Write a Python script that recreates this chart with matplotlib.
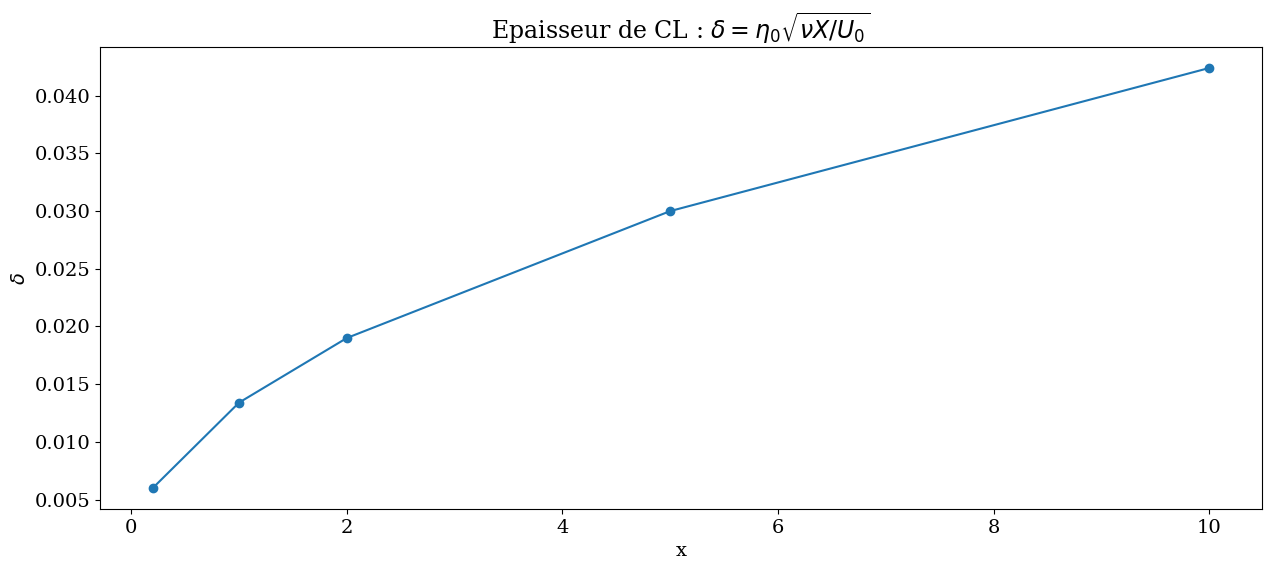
import numpy as np
import matplotlib.pyplot as plt

plt.rcParams['font.family'] = 'serif'
plt.rcParams['font.size'] = 14

x = [0.2, 1, 2, 5, 10]
delta = [0.0060, 0.0134, 0.0190, 0.0300, 0.0424]

fig = plt.figure(figsize=(12.71, 5.7), dpi=100)
ax = fig.add_axes([100/1271, 1 - 509/570, 1162/1271, 462/570])
ax.plot(x, delta, 'o-')
ax.set_xlabel("x")
ax.set_ylabel(r"$\delta$")
ax.set_title(r"Epaisseur de CL : $\delta = \eta_0 \sqrt{\nu X / U_0}$", fontsize=17)
fig.savefig("out.png", dpi=100)
